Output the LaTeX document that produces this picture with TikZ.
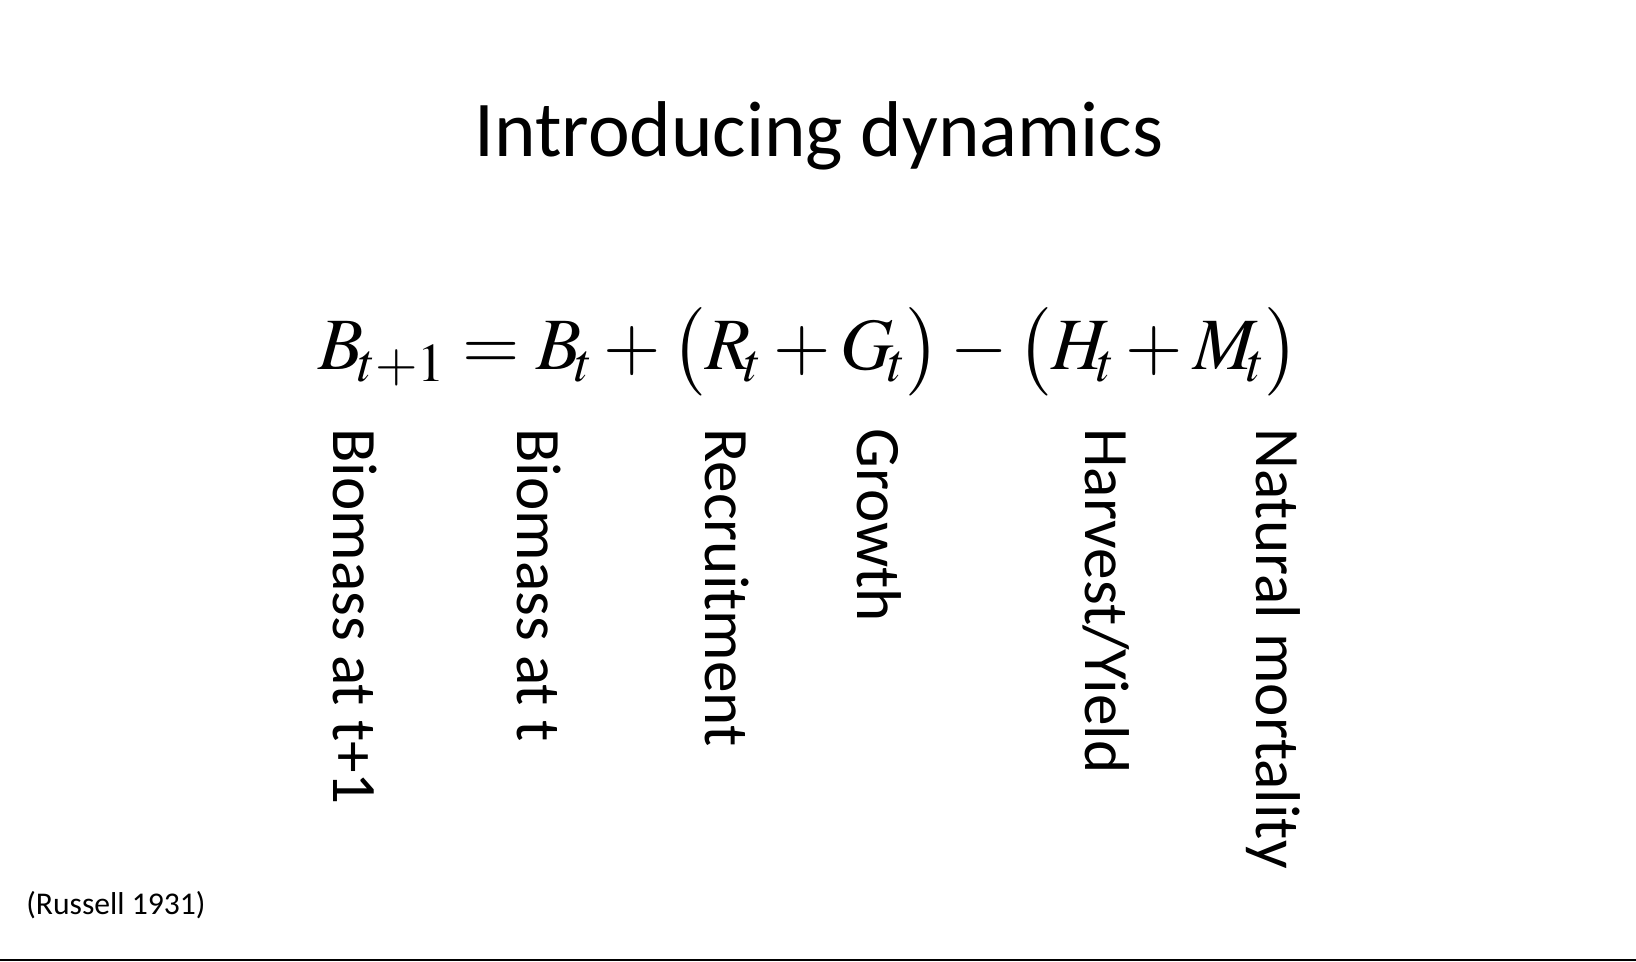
\documentclass[tikz,border=0pt]{standalone}
\usepackage{mathptmx}
\usepackage{fontspec}
\setmainfont{Carlito}
\usetikzlibrary{positioning}
\tikzset{
  lbl/.style={rotate=-90, anchor=west, font=\fontsize{36}{40}\selectfont, inner sep=0pt},
}
\begin{document}
\begin{tikzpicture}[x=0.02cm, y=-0.02cm]
  \useasboundingbox (0,0) rectangle (1636,962);
  % title and equation
  \node (title) at (819,136) {\fontsize{45}{50}\selectfont Introducing dynamics};
  \node[anchor=base, inner sep=0pt] (eq) at (809,370)
    {\fontsize{42}{46}\selectfont $B_{\!t+1} = B_{\!t} + \bigl(R_{\!t} + G_{\!t}\bigr) - \bigl(H_{\!t} + M_{\!t}\bigr)$};
  % labels under terms
  \node[lbl] (b1) at (355,428) {Biomass at t+1};
  \node[lbl] (b0) at (539,428) {Biomass at t};
  \node[lbl] (rec) at (727,428) {Recruitment};
  \node[lbl] (gro) at (879,428) {Growth};
  \node[lbl] (har) at (1106,428) {Harvest/Yield};
  \node[lbl] (nat) at (1273,428) {Natural mortality};
  % source
  \node[anchor=west, inner sep=0pt, font=\fontsize{18}{20}\selectfont] (src) at (26,905) {(Russell 1931)};
  \draw[line width=1.5pt] (0,960) -- (1636,960);
\end{tikzpicture}
\end{document}
